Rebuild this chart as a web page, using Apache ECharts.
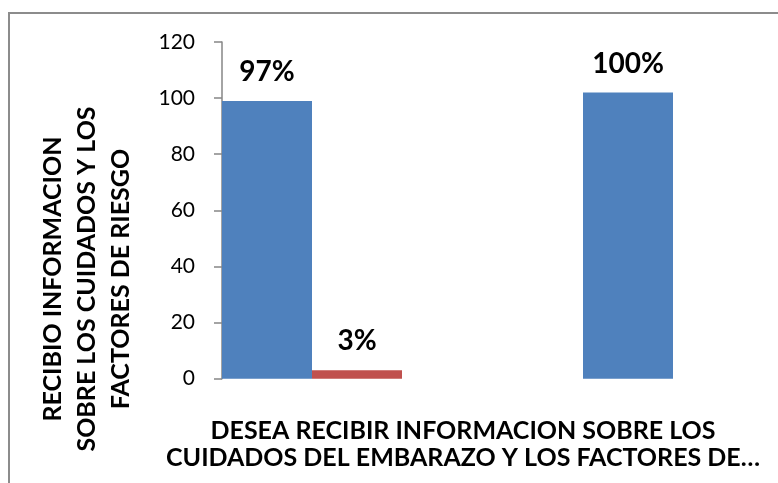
<!DOCTYPE html>
<html>
<head>
<meta charset="utf-8">
<script src="https://cdn.jsdelivr.net/npm/echarts@6/dist/echarts.min.js"></script>
<style>
html,body{margin:0;padding:0;background:#fff;}
#chart{width:778px;height:483px;}
</style>
</head>
<body>
<div id="chart"></div>
<script>
var categories = ["SI", "NO"];
var seriesNames = ["SI", "NO"];
var siValues = [99, 102];
var noValues = [3, 0];
var siLabels = ["97%", "100%"];
var noLabels = ["3%", ""];
var yTicks = [0, 20, 40, 60, 80, 100, 120];
var yTitle = "RECIBIO INFORMACION\nSOBRE LOS CUIDADOS Y LOS\nFACTORES DE RIESGO";
var xTitle = "DESEA RECIBIR INFORMACION SOBRE LOS\nCUIDADOS DEL EMBARAZO Y LOS FACTORES DE…";

var FONT = "Lato";
var chart = echarts.init(document.getElementById('chart'), null, {renderer: 'canvas'});

function labelOf(arr) {
  return function (p) { return arr[p.dataIndex]; };
}

var option = {
  backgroundColor: '#ffffff',
  animation: false,
  grid: {left: 131.5, top: 42, width: 722, height: 336.7, containLabel: false, outerBoundsMode: 'none'},
  xAxis: {
    type: 'category',
    data: categories,
    axisLine: {show: false},
    axisTick: {show: false},
    axisLabel: {show: false},
    splitLine: {show: false}
  },
  yAxis: {
    type: 'value',
    min: yTicks[0],
    max: yTicks[yTicks.length - 1],
    interval: yTicks[1] - yTicks[0],
    offset: -90.5,
    axisLine: {show: true, lineStyle: {color: '#868686', width: 1.5}},
    axisTick: {show: true, inside: false, length: 8, lineStyle: {color: '#868686', width: 1.5}},
    axisLabel: {margin: 27, color: '#000', fontFamily: FONT, fontSize: 21},
    splitLine: {show: false}
  },
  series: [
    {
      name: seriesNames[0],
      type: 'bar',
      data: siValues,
      barWidth: 90,
      barGap: '0%',
      itemStyle: {color: '#4F81BD'},
      label: {show: true, position: 'top', distance: 15, formatter: labelOf(siLabels),
        color: '#000', fontFamily: FONT, fontWeight: 'bold', fontSize: 28}
    },
    {
      name: seriesNames[1],
      type: 'bar',
      data: noValues,
      barWidth: 90,
      barGap: '0%',
      itemStyle: {color: '#C0504D'},
      label: {show: true, position: 'top', distance: 15, formatter: labelOf(noLabels),
        color: '#000', fontFamily: FONT, fontWeight: 'bold', fontSize: 28}
    }
  ],
  graphic: [
    {
      type: 'rect', silent: true, z: -1,
      shape: {x: 9, y: 13, width: 900, height: 600},
      style: {fill: 'none', stroke: '#8c8c8c', lineWidth: 2}
    },
    {
      type: 'text', x: 87, y: 279, rotation: Math.PI / 2,
      style: {text: yTitle, fill: '#000', font: 'bold 25px ' + FONT,
        textAlign: 'center', textVerticalAlign: 'middle', lineHeight: 34}
    },
    {
      type: 'text', x: 463, y: 444.5,
      style: {text: xTitle, fill: '#000', font: 'bold 25px ' + FONT,
        textAlign: 'center', textVerticalAlign: 'middle', lineHeight: 27}
    }
  ]
};
chart.setOption(option);
</script>
</body>
</html>
